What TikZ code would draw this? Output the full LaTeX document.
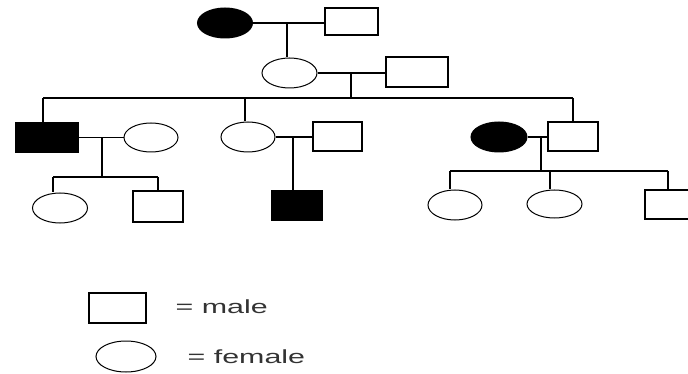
\documentclass[tikz,border=0pt]{standalone}
\usepackage{fontspec}
\setmainfont{Liberation Sans}
\usetikzlibrary{shapes.geometric}
\begin{document}
\begin{tikzpicture}[x=1pt,y=-1pt,line width=1.4pt,
  male/.style={draw, rectangle, inner sep=0pt, minimum width=52pt, minimum height=29pt},
  female/.style={draw, ellipse, inner sep=0pt, line width=1pt, minimum width=55pt, minimum height=30pt},
  aff/.style={fill=black},
  legtext/.style={anchor=west, inner sep=0pt, text=black!80, font=\fontsize{19}{22}\selectfont}]
\useasboundingbox (0,0) rectangle (688,374);
\clip (0,0) rectangle (688,374);
% Generation I
\node[female,aff] (I1) at (225,23) {};
\node[male,minimum width=53pt,minimum height=27pt] (I2) at (351.5,21.5) {};
% Generation II
\node[female] (II1) at (289.5,73) {};
\node[male,minimum width=62pt,minimum height=30pt] (II2) at (417,72) {};
% Generation III
\node[male,aff,minimum width=62pt] (III1) at (47,137.5) {};
\node[female,minimum width=54pt,minimum height=29pt] (III2) at (151,137.5) {};
\node[female,minimum width=54pt] (III3) at (248,137) {};
\node[male,minimum width=49pt] (III4) at (337.5,136.5) {};
\node[female,aff,minimum width=56pt] (III5) at (499,137) {};
\node[male,minimum width=50pt] (III6) at (573,136.5) {};
% Generation IV
\node[female] (IV1) at (60,208) {};
\node[male,minimum width=50pt,minimum height=31pt] (IV2) at (158,206.5) {};
\node[male,aff,minimum width=50pt] (IV3) at (297,205.5) {};
\node[female,minimum width=54pt] (IV4) at (455,205) {};
\node[female,minimum height=28pt] (IV5) at (554.5,204) {};
\node[male,minimum width=50pt] (IV6) at (670,204.5) {};
% Legend
\node[male,minimum width=57pt,minimum height=30pt] (Lm) at (117.5,308) {};
\node[female,minimum width=60pt,minimum height=31pt] (Lf) at (126,356.5) {};
\node[legtext] (Lmt) at (175,307) {\scalebox{1.6}[1]{= male}};
\node[legtext] (Lft) at (187,357) {\scalebox{1.6}[1]{= female}};
% Coordinates
\coordinate (c1) at (287,23);
\coordinate (c2) at (351,72.5);
\coordinate (s2L) at (43,98);
\coordinate (s2M) at (245,98);
\coordinate (s2R) at (573,98);
\coordinate (c3) at (102,138);
\coordinate (s3L) at (53,177);
\coordinate (s3R) at (158,177);
\coordinate (c4) at (293,137.5);
\coordinate (c5) at (541,137.5);
\coordinate (s5L) at (450,171);
\coordinate (s5M) at (550,171);
\coordinate (s5R) at (668,171);
% Connectors
\draw (I1.east) -- (I1.east -| I2.west);
\draw (c1) -- (c1 |- II1.north);
\draw (II1.east) -- (II1.east -| II2.west);
\draw (c2) -- (c2 |- s2L);
\draw (s2L) -- (s2R);
\draw (s2L) -- (s2L |- III1.north);
\draw (s2M) -- (s2M |- III3.north);
\draw (s2R) -- (III6.north);
\draw (III1.east) -- (III1.east -| III2.west);
\draw (c3) -- (c3 |- s3L);
\draw (s3L) -- (s3R);
\draw (s3L) -- (s3L |- IV1.north);
\draw (s3R) -- (IV2.north);
\draw (III3.east) -- (III3.east -| III4.west);
\draw (c4) -- (c4 |- IV3.north);
\draw (III5.east) -- (III5.east -| III6.west);
\draw (c5) -- (c5 |- s5L);
\draw (s5L) -- (s5R);
\draw (s5L) -- (s5L |- IV4.north);
\draw (s5M) -- (s5M |- IV5.north);
\draw (s5R) -- (s5R |- IV6.north);
\end{tikzpicture}
\end{document}
